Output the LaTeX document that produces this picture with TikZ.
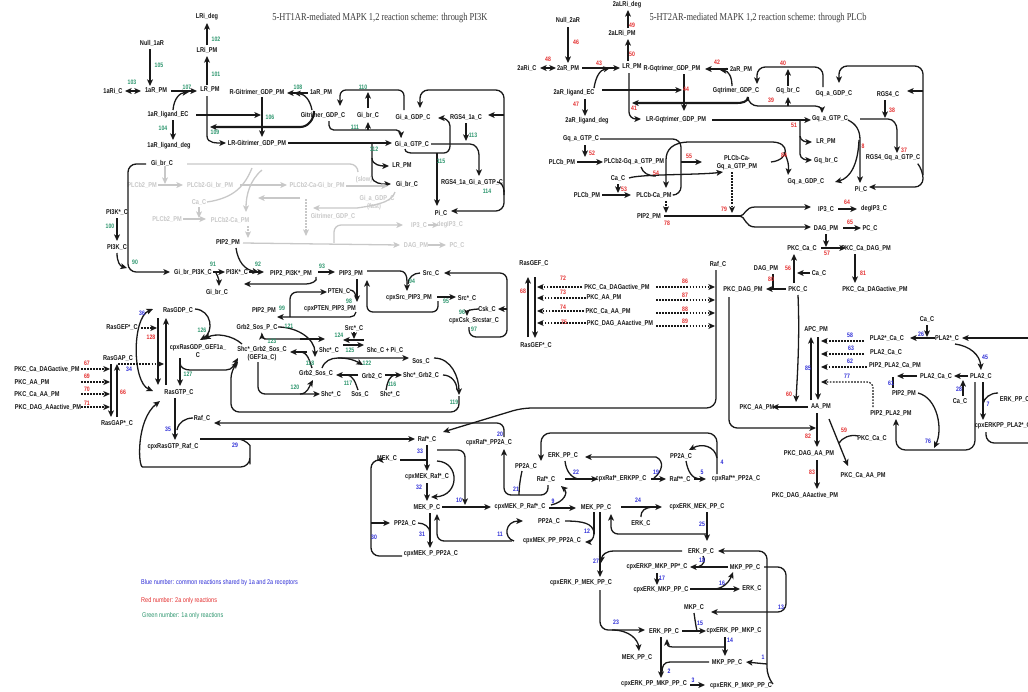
\documentclass[tikz,border=0pt]{standalone}
\usepackage{fontspec}
\newfontfamily\labf[FakeStretch=0.8]{Liberation Sans}
\newfontfamily\titf[FakeStretch=0.8]{Liberation Serif}
\usetikzlibrary{arrows.meta}
\definecolor{cg}{RGB}{45,150,110}
\definecolor{cr}{RGB}{228,45,45}
\definecolor{cb}{RGB}{45,45,215}
\definecolor{ink}{RGB}{25,25,25}
\definecolor{gy}{RGB}{200,200,200}
\newcommand\labfont{\labf\bfseries\fontsize{6}{6.6}\selectfont}
\newcommand\numfont{\labf\bfseries\fontsize{5.5}{6}\selectfont}
\newcommand\legfont{\labf\fontsize{5.9}{6.5}\selectfont}
\newcommand\titfont{\titf\fontsize{9}{10}\selectfont}
\newcommand\rn[4]{\node[#1] (#1#4) at (#2,#3) {#4};}
\tikzset{
 lab/.style={font=\labfont, text=ink, inner sep=0.5pt, align=center},
 glab/.style={lab, text=gy},
 num/.style={font=\numfont, inner sep=0pt},
 ng/.style={num, text=cg}, nr/.style={num, text=cr}, nb/.style={num, text=cb},
 ln/.style={draw=ink, line width=1.1pt},
 ar/.style={ln, -{Stealth[length=5.6pt,width=5pt,inset=1.3pt]}},
 dar/.style={ln, {Stealth[length=5.6pt,width=5pt,inset=1.3pt]}-{Stealth[length=5.6pt,width=5pt,inset=1.3pt]}},
 thk/.style={line width=1.8pt},
 dsh/.style={ar, dash pattern=on 1.4pt off 1.2pt, line width=1pt},
 gln/.style={draw=gy, line width=1.1pt},
 gar/.style={gln, -{Stealth[length=5.6pt,width=5pt,inset=1.3pt]}},
 gdsh/.style={gar, dash pattern=on 1.4pt off 1.2pt, line width=1pt},
}
\begin{document}
\begin{tikzpicture}[x=0.03cm,y=-0.03cm]
\fill[white] (0,0) rectangle (1028,691);
\useasboundingbox (0,0) rectangle (1028,691);
% ---------- titles and legend
\node[font=\titfont, text=ink!85, inner sep=0] (t1) at (380,18) {5-HT1AR-mediated MAPK 1,2 reaction scheme: through PI3K};
\node[font=\titfont, text=ink!85, inner sep=0] (t2) at (758,18) {5-HT2AR-mediated MAPK 1,2 reaction scheme: through PLCb};
\node[font=\legfont, text=cb, anchor=west, inner sep=0] (legb) at (141,583) {Blue number: common reactions shared by 1a and 2a receptors};
\node[font=\legfont, text=cr, anchor=west, inner sep=0] (legr) at (141,601) {Red number: 2a only reactions};
\node[font=\legfont, text=cg, anchor=west, inner sep=0] (legg) at (142,616) {Green number: 1a only reactions};

% ---------- 1a receptor block
\node[lab] (LRideg) at (207,17) {LRi\_deg};
\node[lab] (LRiPM) at (207,50) {LRi\_PM};
\node[lab] (null1) at (152,43) {Null\_1aR};
\node[lab] (aRiC) at (113,91) {1aRi\_C};
\node[lab] (aRPM) at (156,91) {1aR\_PM};
\node[lab] (LRPMa) at (210,90) {LR\_PM};
\node[lab] (aLig) at (168,115) {1aR\_ligand\_EC};
\node[lab] (aLigDeg) at (169,146) {1aR\_ligand\_deg};
\node[lab] (RGi) at (257,92) {R-Gitrimer\_GDP\_PM};
\node[lab] (aRPMb) at (321,93) {1aR\_PM};
\node[lab] (GiTri) at (323,115) {Gitrimer\_GDP\_C};
\node[lab] (GibrA) at (368,115) {Gi\_br\_C};
\node[lab] (GiaGDP) at (413,117) {Gi\_a\_GDP\_C};
\node[lab] (RGS4a) at (466,117) {RGS4\_1a\_C};
\node[lab] (LRGi) at (257,143) {LR-Gitrimer\_GDP\_PM};
\node[lab] (GiaGTP) at (412,144) {Gi\_a\_GTP\_C};
\node[lab] (LRPMb) at (402,166) {LR\_PM};
\node[lab] (GibrB) at (407,184) {Gi\_br\_C};
\node[lab] (RGSGi) at (472,182) {RGS4\_1a\_Gi\_a\_GTP\_C};
\node[lab] (PiA) at (441,213) {Pi\_C};
\node[lab] (GibrC) at (162,163) {Gi\_br\_C};

\draw[ar] (150,49) -- (150,86);
\draw[dar] (125,91) -- (141,91);
\draw[ar,thk] (171,91) -- (197,91);
\draw[ar] (173,110) .. controls (174,98) and (180,93) .. (189,92);
\draw[ar] (173,120) -- (173,140);
\draw[ar] (207,85) -- (207,56);
\draw[ar] (207,45) -- (207,23);
\draw[ar,thk] (196,115) -- (261,115);
\draw[ar] (262,97) -- (262,137);
\draw[ar] (308,93) -- (287,93);
\draw[ar] (312,110) .. controls (310,100) and (305,94) .. (294,93);
\draw[ar,thk] (314,111) to[out=-90,in=0] (300,127) -- (210,127);
\draw[ar] (207,96) -- (207,136) to[out=-90,in=180] (226,143);
\draw[ar] (288,143) -- (392,143);
\draw[ar] (372,143) -- (372,158) to[out=-90,in=180] (389,166);
\draw[ar] (372,158) -- (372,176) to[out=-90,in=180] (391,184);
\draw[ar,rounded corners=4pt] (329,121) -- (329,130) -- (401,130) -- (401,138);
\draw[ar] (368,130) -- (368,122);
\draw[ar,rounded corners=5pt] (404,110) -- (404,90) -- (340,90) -- (340,106);
\draw[ar] (368,108) -- (368,92);
\draw[ar] (466,123) -- (466,141);
\draw[ar] (431,144) -- (470,144) to[out=0,in=90] (479,155) -- (479,176);
\draw[ar] (405,149) to[out=-90,in=180] (413,153) -- (444,153) to[out=0,in=-90] (450,146) -- (450,126) to[out=90,in=0] (438,118);
\draw[ar] (437,153) -- (437,206);
\draw[ar,rounded corners=7pt] (504,190) -- (504,211) -- (451,211);
\draw[ar,rounded corners=7pt] (504,195) -- (504,90) -- (420,90) -- (420,108);
\draw[ar] (504,115) -- (488,115);
\draw[ln] (497,182) to[out=0,in=90] (504,192);

% ---------- grey PLCb2 block
\node[glab] (gPLCa) at (142,185) {PLCb2\_PM};
\node[glab] (gPLCGi) at (210,185) {PLCb2-Gi\_br\_PM};
\node[glab] (gCa) at (199,202) {Ca\_C};
\node[glab] (gPLCb) at (167,219) {PLCb2\_PM};
\node[glab] (gPLCCa) at (230,220) {PLCb2-Ca\_PM};
\node[glab] (gPLCCaGi) at (317,185) {PLCb2-Ca-Gi\_br\_PM};
\node[glab] (gslow) at (364,180) {(slow)};
\node[glab] (gGia) at (377,198) {Gi\_a\_GDP\_C};
\node[glab] (gfast) at (374,207) {(fast)};
\node[glab] (gGitri) at (333,216) {Gitrimer\_GDP\_C};
\node[glab] (gIP3) at (419,225) {IP3\_C};
\node[glab] (gdeg) at (450,225) {degIP3\_C};
\node[glab] (gDAG) at (416,245) {DAG\_PM};
\node[glab] (gPC) at (457,245) {PC\_C};
\draw[gln] (187,164) -- (350,164) to[out=0,in=90] (358,172);
\draw[gar] (158,185) -- (183,185);
\draw[gar] (165,166) -- (165,184);
\draw[gar] (199,207) -- (199,218);
\draw[gar] (183,219) -- (206,219);
\draw[gar] (240,185) -- (287,185);
\draw[gln] (207,202) .. controls (235,198) and (245,185) .. (252,168);
\draw[gar] (262,170) .. controls (250,180) and (246,195) .. (246,212);
\draw[gar] (346,186) -- (388,186);
\draw[gar] (395,192) .. controls (392,200) and (385,204) .. (357,208) -- (313,208);
\draw[gar] (300,198) -- (258,198);
\draw[gdsh] (306,199) -- (306,236);
\draw[gdsh] (248,226) -- (248,238);
\draw[gar] (243,243) -- (400,245);
\draw[gar,rounded corners=6pt] (334,243) -- (334,225) -- (403,225);
\draw[gar] (428,225) -- (439,225);
\draw[gar] (428,245) -- (446,245);

% ---------- PI3K block
\node[lab] (PI3KsA) at (117,212) {PI3K*\_C};
\node[lab] (PI3K) at (117,247) {PI3K\_C};
\node[lab] (PIP2a) at (228,242) {PIP2\_PM};
\node[lab] (GibrPI3K) at (193,272) {Gi\_br\_PI3K\_C};
\node[lab] (PI3KsB) at (237,272) {PI3K*\_C};
\node[lab] (GibrD) at (217,292) {Gi\_br\_C};
\node[lab] (PIP2PI3K) at (291,273) {PIP2\_PI3K*\_PM};
\node[lab] (PIP3) at (351,273) {PIP3\_PM};
\node[lab] (Src) at (431,273) {Src\_C};
\node[lab] (PTEN) at (339,291) {PTEN\_C};
\node[lab] (cpxSrc) at (409,298) {cpxSrc\_PIP3\_PM};
\node[lab] (SrcsA) at (467,298) {Src*\_C};
\node[lab] (Csk) at (487,309) {Csk\_C};
\node[lab] (cpxCsk) at (474,321) {cpxCsk\_Srcstar\_C};
\node[lab] (cpxPTEN) at (330,309) {cpxPTEN\_PIP3\_PM};
\node[lab] (PIP2b) at (264,310) {PIP2\_PM};

\draw[ar,rounded corners=7pt] (146,164) -- (128,164) -- (128,272) -- (170,272);
\draw[ar] (117,253) .. controls (117,262) and (120,266) .. (127,268);
\draw[ar] (117,218) -- (117,241);
\draw[ar] (213,272) -- (225,272);
\draw[ar] (216,273) to[out=-60,in=90] (219,286);
\draw[ar] (249,272) -- (264,272);
\draw[ar] (236,248) .. controls (238,262) and (245,270) .. (259,272);
\draw[ar] (316,277) to[out=-60,in=0] (306,284) -- (244,284);
\draw[ar] (318,272) -- (335,272);
\draw[ar] (367,271) -- (400,271) to[out=0,in=90] (407,291);
\draw[ln] (420,273) to[out=180,in=90] (408,284);
\draw[ar] (437,297) -- (456,297);
\draw[ar,rounded corners=5pt] (438,301) -- (438,312) -- (367,312) -- (367,280);
\draw[ar] (479,309) to[out=180,in=90] (467,316);
\draw[ar,rounded corners=6pt] (469,327) -- (469,337) -- (507,337) -- (507,273) -- (444,273);
\draw[ar] (507,309) -- (498,309);
\draw[ar] (357,279) -- (357,302);
\draw[ln] (350,290) to[out=0,in=90] (356,298);
\draw[ar] (356,312) to[out=-90,in=0] (350,317) -- (277,317);
\draw[ar,rounded corners=6pt] (290,317) -- (290,292) -- (327,292);

% ---------- Grb2 / Shc / Sos
\node[lab] (Grb2SosP) at (257,327) {Grb2\_Sos\_P\_C};
\node[lab] (SrcsB) at (354,328) {Src*\_C};
\node[lab] (ShcsA) at (329,350) {Shc*\_C};
\node[lab] (ShcPi) at (385,350) {Shc\_C + Pi\_C};
\node[lab] (ShcGS) at (262,354) {Shc*\_Grb2\_Sos\_C\\(GEF1a\_C)};
\node[lab] (SosA) at (421,361) {Sos\_C};
\node[lab] (Grb2Sos) at (316,373) {Grb2\_Sos\_C};
\node[lab] (Grb2) at (372,376) {Grb2\_C};
\node[lab] (ShcGrb2) at (421,375) {Shc*\_Grb2\_C};
\node[lab] (ShcsB) at (331,394) {Shc*\_C};
\node[lab] (SosB) at (360,394) {Sos\_C};
\node[lab] (ShcsC) at (390,394) {Shc*\_C};

\draw[ar] (278,327) to[out=0,in=90] (315,357);
\draw[ar] (300,339) -- (325,339);
\draw[ar,rounded corners=3pt] (300,339) -- (262,339) -- (262,333);
\draw[ar] (364,340) -- (343,340);
\draw[ar] (343,345) -- (364,345);
\draw[ar] (354,332) -- (354,339);
\draw[ar] (307,352) -- (290,352);
\draw[ln] (312,368) to[out=110,in=0] (300,352);
\draw[ar] (322,368) to[out=70,in=180] (338,358) -- (409,358);
\draw[ar] (338,358) to[out=0,in=150] (363,365);
\draw[ar] (358,375) -- (336,375);
\draw[ln] (358,390) to[out=110,in=0] (346,375);
\draw[ar] (385,375) -- (402,375);
\draw[ln] (386,390) to[out=80,in=180] (396,375);
\draw[ar] (434,358) to[out=0,in=90] (459,395);
\draw[ln] (443,375) to[out=0,in=90] (457,390);
\draw[ar,rounded corners=7pt] (459,396) -- (459,412) -- (231,412) -- (231,370) -- (238,362);
\draw[ar,rounded corners=6pt] (258,362) -- (258,394) -- (320,394);
\draw[ar] (300,394) to[out=0,in=-120] (313,380);

% ---------- Ras
\node[lab] (RasGDP) at (178,310) {RasGDP\_C};
\node[lab] (RasGEFsA) at (122,327) {RasGEF*\_C};
\node[lab] (cpxRasGDP) at (198,351) {cpxRasGDP\_GEF1a\_\\C};
\node[lab] (RasGAP) at (118,358) {RasGAP\_C};
\node[lab] (RasGTP) at (179,392) {RasGTP\_C};
\node[lab] (RasGAPs) at (117,423) {RasGAP*\_C};
\node[lab] (PKCl1) at (47,369) {PKC\_Ca\_DAGactive\_PM};
\node[lab] (PKCl2) at (32,382) {PKC\_AA\_PM};
\node[lab] (PKCl3) at (37,394) {PKC\_Ca\_AA\_PM};
\node[lab] (PKCl4) at (48,407) {PKC\_DAG\_AAactive\_PM};
\node[lab] (RafA) at (202,418) {Raf\_C};
\node[lab] (cpxRasRaf) at (173,447) {cpxRasGTP\_Raf\_C};

\draw[ar] (158,318) -- (158,385);
\draw[ar] (166,385) -- (166,318);
\draw[dar] (153,309) .. controls (132,318) and (132,382) .. (153,391);
\draw[dsh] (141,328) -- (157,328);
\draw[dsh] (118,364) -- (164,364);
\draw[ar] (195,309) .. controls (212,310) and (214,332) .. (200,340);
\draw[ar] (242,344) .. controls (232,335) and (216,333) .. (204,339);
\draw[ar] (180,358) -- (180,386);
\draw[ar] (180,363) to[out=-90,in=180] (190,370) -- (226,370) to[out=0,in=-120] (238,358);
\draw[ar] (111,364) -- (111,417);
\draw[ar] (117,417) -- (117,364);
\draw[dsh] (81,369) -- (110,369);
\draw[dsh] (81,382) -- (110,382);
\draw[dsh] (81,394) -- (110,394);
\draw[dsh] (81,407) -- (110,407);
\draw[ar] (175,398) -- (175,440);
\draw[ln] (193,418) to[out=180,in=80] (177,430);
\draw[ar] (200,439) -- (415,439);
\draw[ar,rounded corners=8pt] (238,439) .. controls (247,440) and (250,446) .. (250,455) -- (250,467) -- (152,467) .. controls (138,467) and (136,420) .. (160,401);
\draw[ar,rounded corners=6pt] (504,437) -- (504,423) -- (214,423);
\draw[ar,rounded corners=8pt] (716,270) -- (716,408) -- (522,408) -- (443,432);

% ---------- MAPK lower
\node[lab] (RafsA) at (427,439) {Raf*\_C};
\node[lab] (cpxRafPP2A) at (489,443) {cpxRaf*\_PP2A\_C};
\node[lab] (MEK) at (387,458) {MEK\_C};
\node[lab] (cpxMEKRaf) at (427,477) {cpxMEK\_Raf*\_C};
\node[lab] (MEKP) at (427,507) {MEK\_P\_C};
\node[lab] (cpxMEKPRaf) at (520,507) {cpxMEK\_P\_Raf*\_C};
\node[lab] (PP2Aa) at (405,523) {PP2A\_C};
\node[lab] (cpxMEKPPP2A) at (431,554) {cpxMEK\_P\_PP2A\_C};
\node[lab] (ERKPPa) at (563,455) {ERK\_PP\_C};
\node[lab] (PP2Ab) at (681,456) {PP2A\_C};
\node[lab] (PP2Ac) at (526,466) {PP2A\_C};
\node[lab] (RafsB) at (546,479) {Raf*\_C};
\node[lab] (cpxRafERK) at (621,479) {cpxRaf*\_ERKPP\_C};
\node[lab] (Rafss) at (680,479) {Raf**\_C};
\node[lab] (cpxRafssPP2A) at (736,479) {cpxRaf**\_PP2A\_C};
\node[lab] (MEKPPa) at (596,507) {MEK\_PP\_C};
\node[lab] (cpxERKMEK) at (697,507) {cpxERK\_MEK\_PP\_C};
\node[lab] (PP2Ad) at (549,521) {PP2A\_C};
\node[lab] (ERKa) at (641,523) {ERK\_C};
\node[lab] (cpxMEKPPPP2A) at (552,541) {cpxMEK\_PP\_PP2A\_C};
\node[lab] (ERKP) at (701,551) {ERK\_P\_C};
\node[lab] (cpxERKPMKP) at (657,567) {cpxERKP\_MKP\_PP*\_C};
\node[lab] (MKPPPa) at (745,567) {MKP\_PP\_C};
\node[lab] (cpxERKPMEK) at (581,583) {cpxERK\_P\_MEK\_PP\_C};
\node[lab] (cpxERKMKP) at (661,590) {cpxERK\_MKP\_PP\_C};
\node[lab] (ERKb) at (752,588) {ERK\_C};
\node[lab] (MKP) at (694,607) {MKP\_C};
\node[lab] (ERKPPb) at (664,631) {ERK\_PP\_C};
\node[lab] (cpxERKPPMKP) at (734,631) {cpxERK\_PP\_MKP\_C};
\node[lab] (MEKPPb) at (637,657) {MEK\_PP\_C};
\node[lab] (MKPPPb) at (727,662) {MKP\_PP\_C};
\node[lab] (cpxERKPPMKPPP) at (654,684) {cpxERK\_PP\_MKP\_PP\_C};
\node[lab] (cpxERKPMKPPP) at (741,686) {cpxERK\_P\_MKP\_PP\_C};

\draw[ln] (400,460) -- (427,460);
\draw[ar] (427,445) -- (427,471);
\draw[ar] (427,483) -- (427,501);
\draw[ar] (437,461) .. controls (460,462) and (460,496) .. (431,497);
\draw[ar] (442,507) -- (491,507);
\draw[ar,rounded corners=6pt] (437,450) -- (465,450) -- (465,505);
\draw[ar] (430,513) -- (430,548);
\draw[ln] (418,523) to[out=0,in=90] (430,533);
\draw[ar,rounded corners=7pt] (402,556) -- (371,556) -- (371,460) -- (377,460);
\draw[ar] (371,523) -- (390,523);
\draw[ar,rounded corners=6pt] (512,541) -- (437,541) -- (437,514);
\draw[ar] (514,541) .. controls (503,538) and (505,521) .. (523,521);
\draw[ar,rounded corners=8pt] (717,474) -- (717,433) -- (541,433) -- (541,461);
\draw[ar] (717,458) .. controls (715,446) and (702,443) .. (689,450);
\draw[ar] (694,479) -- (706,479);
\draw[ln] (686,461) .. controls (688,472) and (692,478) .. (699,479);
\draw[ar] (651,479) -- (666,479);
\draw[ar] (654,478) .. controls (662,472) and (665,461) .. (656,457) -- (585,457);
\draw[ar] (565,479) -- (598,479);
\draw[ln] (565,461) .. controls (566,470) and (570,477) .. (578,479);
\draw[ar,rounded corners=6pt] (548,485) -- (548,495) -- (504,495) -- (504,449);
\draw[ln] (522,471) .. controls (520,480) and (519,488) .. (519,495);
\draw[ar] (549,508) -- (576,508);
\draw[ar] (551,505) .. controls (565,502) and (568,492) .. (561,486);
\draw[ar] (621,507) -- (662,507);
\draw[ln] (641,517) .. controls (641,510) and (645,508) .. (652,507);
\draw[ar] (707,512) -- (707,541);
\draw[ar,rounded corners=6pt] (707,534) -- (611,534) -- (611,514);
\draw[ln] (565,521) .. controls (585,521) and (592,524) .. (594,532);
\draw[ln] (594,512) -- (594,534);
\draw[ar] (594,534) to[out=-90,in=0] (585,542);
\draw[ar] (600,512) -- (600,577);
\draw[ar] (682,551) -- (614,551) .. controls (606,551) and (602,555) .. (601,563);
\draw[ar] (728,567) -- (690,567);
\draw[ln] (703,556) .. controls (706,560) and (704,565) .. (698,567);
\draw[ar] (657,573) -- (657,585);
\draw[ar] (690,589) -- (740,589);
\draw[ar] (715,589) .. controls (725,588) and (730,580) .. (733,572);
\draw[ar,rounded corners=7pt] (764,567) -- (786,567) -- (786,612) -- (711,612);
\draw[ar] (682,631) -- (706,631);
\draw[ln] (694,613) .. controls (695,620) and (696,627) .. (697,631);
\draw[ar] (725,637) -- (725,656);
\draw[ar] (725,647) -- (673,647) .. controls (668,647) and (667,645) .. (667,639);
\draw[ar] (661,637) -- (661,678);
\draw[ln] (709,662) -- (670,662) .. controls (664,662) and (662,666) .. (662,672);
\draw[ar] (690,685) -- (705,685);
\draw[ar,rounded corners=7pt] (773,684) -- (767,676) -- (767,551) -- (718,551);
\draw[ar] (767,664) -- (746,662);
\draw[ar,rounded corners=7pt] (600,590) -- (600,630) -- (645,630);
\draw[ar] (612,630) .. controls (630,630) and (638,640) .. (639,651);

% ---------- 2a receptor block
\node[lab] (LRi2deg) at (627,5) {2aLRi\_deg};
\node[lab] (LRi2PM) at (622,33) {2aLRi\_PM};
\node[lab] (null2) at (568,20) {Null\_2aR};
\node[lab] (R2iC) at (527,68) {2aRi\_C};
\node[lab] (R2PM) at (568,68) {2aR\_PM};
\node[lab] (LRPMc) at (632,67) {LR\_PM};
\node[lab] (RGq) at (672,69) {R-Gqtrimer\_GDP\_PM};
\node[lab] (R2PMb) at (741,69) {2aR\_PM};
\node[lab] (Lig2) at (574,93) {2aR\_ligand\_EC};
\node[lab] (Gqtri) at (736,91) {Gqtrimer\_GDP\_C};
\node[lab] (Lig2deg) at (587,121) {2aR\_ligand\_deg};
\node[lab] (LRGq) at (676,120) {LR-Gqtrimer\_GDP\_PM};
\node[lab] (GqbrA) at (788,91) {Gq\_br\_C};
\node[lab] (GqaGDPa) at (834,94) {Gq\_a\_GDP\_C};
\node[lab] (RGS4) at (888,94) {RGS4\_C};
\node[lab] (GqaGTPa) at (830,119) {Gq\_a\_GTP\_C};
\node[lab] (LRPMd) at (826,142) {LR\_PM};
\node[lab] (GqbrB) at (826,161) {Gq\_br\_C};
\node[lab] (RGSGq) at (893,158) {RGS4\_Gq\_a\_GTP\_C};
\node[lab] (GqaGDPb) at (806,182) {Gq\_a\_GDP\_C};
\node[lab] (PiB) at (861,189) {Pi\_C};
\node[lab] (GqaGTPb) at (581,139) {Gq\_a\_GTP\_C};
\node[lab] (PLCbA) at (562,162) {PLCb\_PM};
\node[lab] (PLCbGq) at (634,162) {PLCb2-Gq\_a\_GTP\_PM};
\node[lab] (PLCbCaGq) at (737,163) {PLCb-Ca-\\Gq\_a\_GTP\_PM};
\node[lab] (CaA) at (618,178) {Ca\_C};
\node[lab] (PLCbB) at (587,195) {PLCb\_PM};
\node[lab] (PLCbCa) at (654,195) {PLCb-Ca\_PM};
\node[lab] (PIP2c) at (649,216) {PIP2\_PM};
\node[lab] (IP3) at (826,209) {IP3\_C};
\node[lab] (degIP3) at (874,209) {degIP3\_C};
\node[lab] (DAGa) at (826,228) {DAG\_PM};
\node[lab] (PC) at (870,228) {PC\_C};

\draw[ar] (568,27) -- (568,63);
\draw[dar] (540,68) -- (556,68);
\draw[ar,thk] (582,68) -- (620,68);
\draw[ar] (594,88) .. controls (596,76) and (600,70) .. (610,68);
\draw[ar] (628,61) -- (628,39);
\draw[ar] (628,28) -- (628,10);
\draw[ar] (585,99) -- (585,116);
\draw[ar,thk] (602,90) -- (682,90);
\draw[ar] (684,74) -- (684,111);
\draw[ar] (728,69) -- (705,69);
\draw[ar] (732,86) .. controls (732,76) and (728,71) .. (720,70);
\draw[ar,rounded corners=6pt] (629,73) -- (629,119) -- (641,119);
\draw[ar,thk] (748,97) to[out=-90,in=0] (737,103) -- (632,103);
\draw[ar] (748,97) to[out=-90,in=180] (758,106) -- (815,106) to[out=0,in=90] (822,113);
\draw[ar] (788,106) -- (788,97);
\draw[ar] (712,120) -- (811,120);
\draw[ar] (800,120) -- (800,136) to[out=-90,in=180] (812,142);
\draw[ar] (800,136) -- (800,154) to[out=-90,in=180] (812,160);
\draw[ar,rounded corners=7pt] (823,87) -- (823,67) -- (757,67) -- (757,84);
\draw[ar] (788,86) -- (788,69);
\draw[ar] (885,100) -- (885,118);
\draw[ar] (860,119) -- (888,119) to[out=0,in=90] (897,130) -- (897,153);
\draw[ar] (848,120) .. controls (856,124) and (860,130) .. (860,140) -- (860,183);
\draw[ar] (859,140) .. controls (858,165) and (850,178) .. (835,182);
\draw[ar,rounded corners=7pt] (918,164) -- (923,170) -- (923,187) -- (869,187);
\draw[ar,rounded corners=7pt] (923,175) -- (923,66) -- (839,66) -- (839,83);
\draw[ar] (923,91) -- (907,91);
\draw[ar] (585,145) -- (585,157);
\draw[ar] (577,162) -- (603,162);
\draw[ln,rounded corners=7pt] (600,139) -- (681,139) -- (681,195) -- (674,195);
\draw[ar] (681,162) -- (702,162);
\draw[ar] (629,178) .. controls (640,174) and (700,175) .. (723,172);
\draw[ln] (641,167) .. controls (643,173) and (648,176) .. (656,176);
\draw[ar] (618,184) -- (618,193);
\draw[ar] (602,195) -- (631,195);
\draw[ar] (771,162) .. controls (790,160) and (790,142) .. (772,142) -- (690,142) .. controls (672,142) and (666,150) .. (666,160) -- (666,188);
\draw[ar] (784,152) .. controls (788,160) and (789,165) .. (788,175);
\draw[dsh] (666,201) -- (666,213);
\draw[dsh] (732,172) -- (732,213);
\draw[ln] (664,216) -- (740,216);
\draw[ar] (740,216) .. controls (745,216) and (745,207) .. (755,207) -- (811,207);
\draw[ar] (740,216) .. controls (745,216) and (745,227) .. (755,227) -- (811,227);
\draw[ar] (838,209) -- (857,209);
\draw[ar] (843,228) -- (861,228);

% ---------- PKC / PLA2 block
\node[lab] (RasGEF) at (534,263) {RasGEF\_C};
\node[lab] (RasGEFsB) at (536,345) {RasGEF*\_C};
\node[lab] (PKCm1) at (617,287) {PKC\_Ca\_DAGactive\_PM};
\node[lab] (PKCm2) at (604,297) {PKC\_AA\_PM};
\node[lab] (PKCm3) at (608,311) {PKC\_Ca\_AA\_PM};
\node[lab] (PKCm4) at (620,323) {PKC\_DAG\_AAactive\_PM};
\node[lab] (RafB) at (718,264) {Raf\_C};
\node[lab] (DAGb) at (766,268) {DAG\_PM};
\node[lab] (PKCDAG) at (743,289) {PKC\_DAG\_PM};
\node[lab] (PKC) at (798,289) {PKC\_C};
\node[lab] (PKCCaA) at (802,248) {PKC\_Ca\_C};
\node[lab] (PKCCaDAG) at (866,248) {PKC\_Ca\_DAG\_PM};
\node[lab] (CaB) at (819,273) {Ca\_C};
\node[lab] (PKCCaDAGa) at (875,289) {PKC\_Ca\_DAGactive\_PM};
\node[lab] (APC) at (816,329) {APC\_PM};
\node[lab] (PLA2sCa) at (887,338) {PLA2*\_Ca\_C};
\node[lab] (CaC) at (927,319) {Ca\_C};
\node[lab] (PLA2s) at (947,338) {PLA2*\_C};
\node[lab] (PLA2CaA) at (886,352) {PLA2\_Ca\_C};
\node[lab] (PIP2PLA2Ca) at (895,365) {PIP2\_PLA2\_Ca\_PM};
\node[lab] (PLA2CaB) at (936,376) {PLA2\_Ca\_C};
\node[lab] (PLA2) at (981,376) {PLA2\_C};
\node[lab] (PIP2d) at (904,393) {PIP2\_PM};
\node[lab] (CaD) at (960,401) {Ca\_C};
\node[lab,anchor=west] (ERKPPc) at (999,399) {ERK\_PP\_C};
\node[lab,anchor=west] (cpxERKPLA2) at (974,426) {cpxERKPP\_PLA2*\_C};
\node[lab] (PKCAA) at (757,407) {PKC\_AA\_PM};
\node[lab] (AA) at (821,407) {AA\_PM};
\node[lab] (PIP2PLA2) at (891,413) {PIP2\_PLA2\_PM};
\node[lab] (PKCDAGAA) at (809,453) {PKC\_DAG\_AA\_PM};
\node[lab] (PKCCaB) at (872,438) {PKC\_Ca\_C};
\node[lab] (PKCCaAA) at (863,475) {PKC\_Ca\_AA\_PM};
\node[lab] (PKCDAGAAa) at (805,495) {PKC\_DAG\_AAactive\_PM};

\draw[ar] (528,337) -- (528,277);
\draw[ar] (535,277) -- (535,338);
\draw[dsh] (582,287) -- (537,287);
\draw[dsh] (586,298) -- (537,298);
\draw[dsh] (584,311) -- (537,311);
\draw[dsh] (586,323) -- (537,323);
\draw[dsh] (656,287) -- (715,287);
\draw[dsh] (656,300) -- (715,300);
\draw[dsh] (656,313) -- (715,313);
\draw[dsh] (656,326) -- (715,326);
\draw[ar] (826,234) -- (826,247);
\draw[ar] (821,248) -- (846,248);
\draw[ar] (855,254) -- (855,283);
\draw[ar] (794,283) -- (794,254);
\draw[ar] (810,273) -- (797,273);
\draw[ar] (786,289) -- (766,289);
\draw[ln] (773,274) -- (773,289);
\draw[ar] (798,295) .. controls (800,340) and (797,380) .. (796,402);
\draw[ar] (808,407) -- (772,407);
\draw[ar,rounded corners=7pt] (729,297) -- (729,428) -- (816,428);
\draw[ar] (817,413) -- (817,447);
\draw[ar] (817,460) -- (817,489);
\draw[ar] (829,419) -- (848,466);
\draw[ln] (858,436) .. controls (850,434) and (842,438) .. (839,443);
\draw[ar] (811,400) -- (811,337);
\draw[ar] (818,337) -- (818,400);
\draw[dsh] (864,341) -- (821,341);
\draw[dsh] (864,354) -- (821,354);
\draw[dsh] (867,367) -- (821,367);
\draw[dsh,rounded corners=5pt] (873,407) -- (873,382) -- (821,382);
\draw[ar] (927,325) -- (927,337);
\draw[ar] (935,338) -- (910,338);
\draw[ar] (1030,338) -- (962,338);
\draw[ar] (955,344) .. controls (970,346) and (980,355) .. (981,370);
\draw[ar] (963,396) -- (963,380);
\draw[ar] (968,376) -- (954,376);
\draw[ar] (917,376) -- (897,376);
\draw[ln] (893,388) -- (893,377);
\draw[ar,rounded corners=8pt] (975,382) -- (975,450) -- (896,450) -- (896,419);
\draw[ar] (918,393) .. controls (938,398) and (943,430) .. (934,448);
\draw[ar] (983,382) -- (983,420);
\draw[ln] (998,393) .. controls (990,393) and (984,398) .. (983,404);
\draw[ln,rounded corners=7pt] (986,432) -- (986,443) -- (1030,443);

% ---------- reaction numbers
\rn{ng}{216}{39}{102} \rn{ng}{216}{74}{101} \rn{ng}{159}{65}{105} \rn{ng}{132}{82}{103}
\rn{ng}{187}{87}{107} \rn{ng}{163}{128}{104} \rn{ng}{298}{87}{108} \rn{ng}{270}{117}{106}
\rn{ng}{215}{132}{109} \rn{ng}{363}{87}{110} \rn{ng}{355}{127}{111} \rn{ng}{473}{135}{113}
\rn{ng}{374}{149}{112} \rn{ng}{441}{161}{115} \rn{ng}{487}{191}{114} \rn{ng}{110}{226}{100}
\rn{ng}{135}{262}{90} \rn{ng}{213}{264}{91} \rn{ng}{258}{264}{92} \rn{ng}{322}{266}{93}
\rn{ng}{412}{281}{94} \rn{ng}{349}{301}{98} \rn{ng}{282}{308}{99} \rn{ng}{446}{301}{95}
\rn{ng}{462}{312}{96} \rn{ng}{474}{329}{97} \rn{ng}{289}{326}{121} \rn{ng}{272}{341}{123}
\rn{ng}{339}{335}{124} \rn{ng}{350}{350}{125} \rn{ng}{310}{363}{118} \rn{ng}{367}{363}{122}
\rn{ng}{348}{383}{117} \rn{ng}{392}{384}{116} \rn{ng}{295}{387}{120} \rn{ng}{454}{402}{119}
\rn{ng}{202}{330}{126} \rn{ng}{188}{374}{127}
\rn{nr}{151}{337}{128} \rn{nr}{87}{363}{67} \rn{nr}{87}{376}{69} \rn{nr}{87}{389}{70}
\rn{nr}{87}{403}{71} \rn{nr}{123}{392}{66} \rn{nr}{576}{42}{46} \rn{nr}{548}{59}{48}
\rn{nr}{599}{63}{43} \rn{nr}{632}{54}{50} \rn{nr}{632}{25}{49} \rn{nr}{576}{104}{47}
\rn{nr}{634}{108}{41} \rn{nr}{717}{62}{42} \rn{nr}{686}{89}{44} \rn{nr}{783}{63}{40}
\rn{nr}{771}{100}{39} \rn{nr}{794}{125}{51} \rn{nr}{892}{110}{38} \rn{nr}{904}{150}{37}
\rn{nr}{863}{146}{8} \rn{nr}{784}{155}{84} \rn{nr}{592}{153}{52} \rn{nr}{689}{156}{55}
\rn{nr}{656}{173}{54} \rn{nr}{624}{189}{53} \rn{nr}{724}{209}{79} \rn{nr}{667}{223}{78}
\rn{nr}{847}{202}{64} \rn{nr}{850}{222}{65} \rn{nr}{523}{291}{68} \rn{nr}{563}{278}{72}
\rn{nr}{563}{292}{73} \rn{nr}{563}{307}{74} \rn{nr}{564}{322}{75} \rn{nr}{685}{281}{86}
\rn{nr}{685}{295}{87} \rn{nr}{685}{309}{88} \rn{nr}{685}{321}{89} \rn{nr}{827}{253}{57}
\rn{nr}{788}{268}{56} \rn{nr}{771}{279}{80} \rn{nr}{863}{273}{81} \rn{nr}{789}{394}{60}
\rn{nr}{808}{436}{82} \rn{nr}{844}{430}{59} \rn{nr}{812}{472}{83}
\rn{nb}{142}{313}{36} \rn{nb}{129}{369}{34} \rn{nb}{168}{429}{35} \rn{nb}{235}{445}{29}
\rn{nb}{500}{434}{20} \rn{nb}{420}{451}{33} \rn{nb}{419}{487}{32} \rn{nb}{459}{500}{10}
\rn{nb}{422}{534}{31} \rn{nb}{374}{537}{30} \rn{nb}{500}{534}{11} \rn{nb}{722}{462}{4}
\rn{nb}{576}{472}{22} \rn{nb}{656}{472}{19} \rn{nb}{702}{472}{5} \rn{nb}{516}{489}{21}
\rn{nb}{553}{501}{9} \rn{nb}{638}{500}{24} \rn{nb}{587}{531}{12} \rn{nb}{702}{524}{25}
\rn{nb}{596}{561}{27} \rn{nb}{702}{560}{18} \rn{nb}{662}{578}{17} \rn{nb}{722}{583}{16}
\rn{nb}{616}{622}{23} \rn{nb}{700}{623}{15} \rn{nb}{730}{640}{14} \rn{nb}{763}{657}{1}
\rn{nb}{669}{671}{2} \rn{nb}{693}{680}{3} \rn{nb}{781}{607}{13} \rn{nb}{850}{335}{58}
\rn{nb}{921}{334}{26} \rn{nb}{851}{348}{63} \rn{nb}{985}{357}{45} \rn{nb}{850}{361}{62}
\rn{nb}{808}{368}{85} \rn{nb}{847}{376}{77} \rn{nb}{891}{383}{61} \rn{nb}{959}{389}{28}
\rn{nb}{988}{404}{7} \rn{nb}{928}{441}{76}
\end{tikzpicture}
\end{document}
